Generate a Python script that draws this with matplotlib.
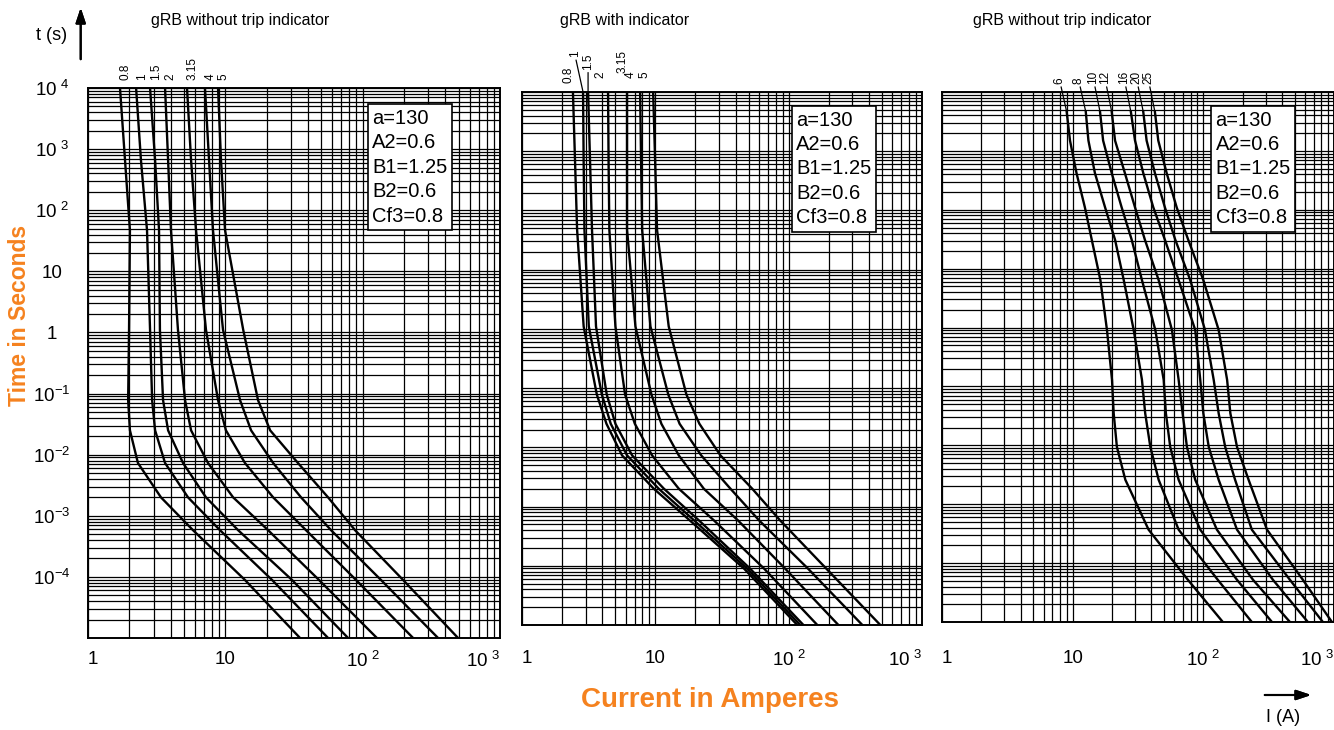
import numpy as np
import matplotlib.pyplot as plt
from matplotlib.ticker import LogLocator, NullFormatter

plt.rcParams['font.family'] = ['Liberation Sans', 'DejaVu Sans']

# ---- data (current in A, time in s) ----
left_ratings = ['0.8', '1', '1.5', '2', '3.15', '4', '5']
left_times = [1e4, 660, 47, 1.1, 0.078, 0.025, 0.0073, 0.002, 5.8e-4, 8.9e-5, 1e-5]
left_currents = [
    [1.71, 1.86, 2.02, 1.99, 1.96, 2.02, 2.31, 3.40, 5.82, 13.9, 35.0],
    [2.24, 2.43, 2.69, 2.83, 2.93, 3.08, 3.64, 5.35, 9.15, 21.9, 56.0],
    [2.83, 3.08, 3.29, 3.34, 3.52, 3.83, 4.92, 7.23, 12.4, 30.6, 78.3],
    [3.64, 3.83, 4.02, 4.52, 5.09, 5.63, 7.48, 11.4, 20.5, 48.1, 127],
    [5.26, 5.63, 6.12, 7.23, 8.85, 10.1, 13.9, 22.3, 38.7, 89.5, 233],
    [7.11, 7.61, 8.13, 9.62, 12.8, 15.4, 22.3, 35.6, 58.9, 136, 354],
    [8.85, 9.30, 9.95, 13.5, 17.3, 21.2, 33.8, 56.0, 88.1, 197, 495],
]

mid_ratings = ['0.8', '1', '1.5', '2', '3.15', '4', '5']
mid_times = [1e4, 660, 47, 1.1, 0.078, 0.025, 0.0073, 0.002, 5.8e-4, 8.9e-5, 1e-5]
mid_currents = [
    [2.41, 2.50, 2.59, 2.90, 3.64, 4.30, 5.63, 9.74, 18.2, 46.4, 116],
    [2.87, 2.90, 2.94, 3.17, 3.97, 4.63, 6.14, 10.6, 19.6, 48.9, 122],
    [3.13, 3.24, 3.35, 3.59, 4.32, 5.02, 6.70, 11.6, 21.3, 51.5, 129],
    [4.42, 4.46, 4.52, 5.02, 5.93, 7.02, 9.46, 15.0, 27.6, 65.6, 164],
    [6.14, 6.14, 6.14, 7.09, 9.35, 11.1, 15.0, 23.1, 41.8, 94.3, 236],
    [7.69, 7.82, 7.96, 9.19, 12.5, 15.2, 22.1, 36.6, 60.2, 140, 357],
    [9.63, 9.97, 10.3, 12.6, 17.1, 21.4, 30.8, 53.3, 86.5, 192, 487],
]

right_ratings = ['6', '8', '10', '12', '16', '20', '25']
right_times = [4600, 1500, 420, 110, 31, 6.4, 0.91, 0.13, 0.035, 0.0094, 0.0026, 3.7e-4, 5.2e-5, 1e-5]
right_currents = [
    [9.00, 9.54, 10.7, 12.4, 14.0, 16.3, 18.3, 20.0, 20.6, 21.8, 25.3, 38.1, 76.2, 141],
    [12.6, 13.2, 14.8, 17.7, 21.1, 24.6, 29.3, 33.9, 35.9, 39.3, 45.5, 64.7, 129, 235],
    [16.2, 17.1, 19.9, 23.7, 28.3, 33.9, 42.9, 49.7, 51.7, 55.8, 64.7, 94.7, 181, 335],
    [19.9, 21.1, 25.1, 30.0, 35.7, 45.5, 57.5, 64.7, 69.4, 74.9, 86.7, 127, 240, 460],
    [27.9, 30.0, 34.7, 41.4, 50.8, 64.7, 86.7, 94.7, 100, 110, 131, 181, 341, 631],
    [34.7, 36.8, 42.6, 50.8, 61.0, 79.4, 103, 120, 131, 147, 175, 235, 460, 822],
    [42.6, 45.2, 52.4, 62.5, 76.6, 100, 131, 152, 161, 181, 222, 307, 578, 964],
]

panel_titles = ['gRB without trip indicator', 'gRB with indicator', 'gRB without trip indicator']
params_text = 'a=130\nA2=0.6\nB1=1.25\nB2=0.6\nCf3=0.8'

x_ticks = [1, 10, 100, 1000]
x_ticklabels = ['1', '10', r'$\mathregular{10^{\ 2}}$', r'$\mathregular{10^{\ 3}}$']
y_ticks = [1e4, 1e3, 1e2, 10, 1, 0.1, 0.01, 1e-3, 1e-4]
y_ticklabels = [r'$\mathregular{10^{\ 4}}$', r'$\mathregular{10^{\ 3}}$', r'$\mathregular{10^{\ 2}}$', '10', '1',
                r'$\mathregular{10^{-1}}$', r'$\mathregular{10^{-2}}$', r'$\mathregular{10^{-3}}$',
                r'$\mathregular{10^{-4}}$']

ORANGE = '#F5821F'

fig = plt.figure(figsize=(13.34, 7.30), dpi=100)

# axes rectangles in figure fraction (left, bottom, width, height)
rects = [
    (88 / 1334, 1 - 638 / 730, 412 / 1334, 550 / 730),
    (522 / 1334, 1 - 625 / 730, 400 / 1334, 533 / 730),
    (942 / 1334, 1 - 622 / 730, 392 / 1334, 530 / 730),
]
box_pos = [(0.690, 0.962), (0.685, 0.965), (0.698, 0.965)]
xlabel_pad = [9, 18, 20]

# label offsets (points) relative to the top of each curve, and leader line flags
label_offsets = [
    [(4, 6)] * 7,
    [(-3.5, 6.5), (-6, 25), (0, 16), (-5.5, 10), (-3.5, 13.5), (-7, 10), (-6, 10)],
    [(-5, 20)] * 7,
]
leaders = [
    [False] * 7,
    [False, True, True, False, False, False, False],
    [True] * 7,
]

panels = [
    (left_times, left_currents, left_ratings),
    (mid_times, mid_currents, mid_ratings),
    (right_times, right_currents, right_ratings),
]

for i, (times, currents, ratings) in enumerate(panels):
    ax = fig.add_axes(rects[i])
    ax.set_xscale('log')
    ax.set_yscale('log')

    for I, rating, (dx, dy), lead in zip(currents, ratings, label_offsets[i], leaders[i]):
        ax.plot(I, times, color='black', lw=1.7, zorder=3)
        arrow = dict(arrowstyle='-', lw=0.9, color='black', shrinkA=0, shrinkB=0) if lead else None
        ax.annotate(rating, xy=(I[0], times[0]), xytext=(dx, dy), textcoords='offset points',
                    rotation=90, ha='center', va='bottom', fontsize=8.5,
                    annotation_clip=False, arrowprops=arrow)

    ax.set_xlim(1, 1000)
    ax.set_ylim(1e-5, 1e4)
    for axis in (ax.xaxis, ax.yaxis):
        axis.set_minor_locator(LogLocator(base=10, subs=np.arange(2, 10), numticks=100))
        axis.set_minor_formatter(NullFormatter())
    ax.grid(True, which='both', color='black', lw=0.9)
    ax.set_axisbelow(True)
    for sp in ax.spines.values():
        sp.set_linewidth(1.4)

    ax.set_xticks(x_ticks)
    ax.set_xticklabels(x_ticklabels, fontsize=13.5)
    ax.tick_params(axis='x', which='both', length=0, pad=xlabel_pad[i])
    labs = ax.get_xticklabels()
    labs[0].set_ha('left')
    labs[-1].set_ha('right')

    if i == 0:
        ax.set_yticks(y_ticks)
        ax.set_yticklabels(y_ticklabels, fontsize=13.5, ha='center')
        ax.tick_params(axis='y', which='both', length=0, pad=26)
    else:
        ax.set_yticks(y_ticks)
        ax.tick_params(axis='y', which='both', length=0, labelleft=False)

    ax.text(box_pos[i][0], box_pos[i][1], params_text, transform=ax.transAxes,
            va='top', ha='left', fontsize=14.5, linespacing=1.36, zorder=5,
            bbox=dict(boxstyle='square,pad=0.22', fc='white', ec='black', lw=1.2))

# panel titles
fig.text(240 / 1334, 1 - 20 / 730, panel_titles[0], ha='center', va='center', fontsize=11.5)
fig.text(625 / 1334, 1 - 20 / 730, panel_titles[1], ha='center', va='center', fontsize=11.5)
fig.text(1062 / 1334, 1 - 20 / 730, panel_titles[2], ha='center', va='center', fontsize=11.5)

# axis arrows and unit labels
fig.text(52 / 1334, 1 - 35 / 730, 't (s)', ha='center', va='center', fontsize=13)
fig.add_artist(plt.annotate('', xy=(80.7 / 1334, 1 - 5 / 730), xytext=(80.7 / 1334, 1 - 62 / 730),
                            xycoords='figure fraction',
                            arrowprops=dict(arrowstyle='-|>,head_length=0.9,head_width=0.3', lw=1.5, color='black')))
fig.text(1283 / 1334, 1 - 718 / 730, 'I (A)', ha='center', va='center', fontsize=13)
fig.add_artist(plt.annotate('', xy=(1314 / 1334, 1 - 695 / 730), xytext=(1262 / 1334, 1 - 695 / 730),
                            xycoords='figure fraction',
                            arrowprops=dict(arrowstyle='-|>,head_length=0.9,head_width=0.3', lw=1.5, color='black')))

fig.text(20 / 1334, 1 - 315 / 730, 'Time in Seconds', rotation=90, ha='center', va='center',
         fontsize=16.5, fontweight='bold', color=ORANGE)
fig.text(710 / 1334, 1 - 700 / 730, 'Current in Amperes', ha='center', va='center',
         fontsize=20, fontweight='bold', color=ORANGE)

fig.savefig('out.png', dpi=100)
